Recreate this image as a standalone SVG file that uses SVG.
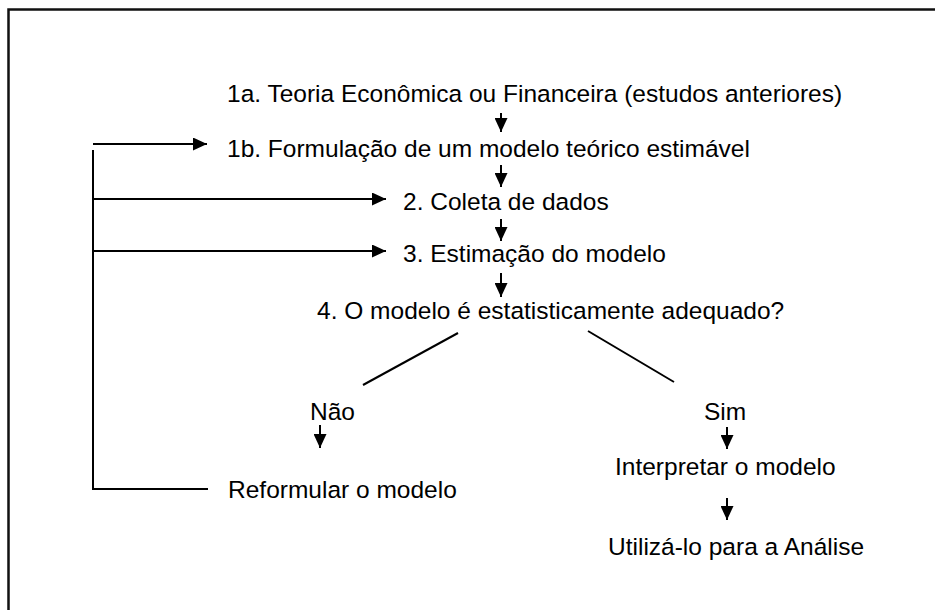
<svg xmlns="http://www.w3.org/2000/svg" width="935" height="610" viewBox="0 0 935 610">
<style>
text{font-family:"Liberation Sans",Arial,sans-serif;font-size:24.5px;fill:#000}
.ln{stroke:#000;stroke-width:2;fill:none}
</style>
<defs>
<marker id="ah" viewBox="0 0 14 13" refX="14" refY="6.5" markerWidth="14" markerHeight="13" markerUnits="userSpaceOnUse" orient="auto"><path d="M0,0L14,6.5L0,13z" fill="#000"/></marker>
</defs>
<rect width="935" height="610" fill="#fff"/>
<g id="frame"><path d="M8.5,610V9.5H935" fill="none" stroke="#111" stroke-width="2.5"/></g>
<g id="n1a"><text x="227" y="102">1a. Teoria Econômica ou Financeira (estudos anteriores)</text></g>
<g id="n1b"><text x="227" y="156.5">1b. Formulação de um modelo teórico estimável</text></g>
<g id="n2"><text x="403" y="210">2. Coleta de dados</text></g>
<g id="n3"><text x="403" y="262">3. Estimação do modelo</text></g>
<g id="n4"><text x="317" y="319">4. O modelo é estatisticamente adequado?</text></g>
<g id="nNao"><text x="310" y="420">Não</text></g>
<g id="nSim"><text x="704" y="420">Sim</text></g>
<g id="nRef"><text x="228" y="498">Reformular o modelo</text></g>
<g id="nInt"><text x="615" y="475">Interpretar o modelo</text></g>
<g id="nUti"><text x="608" y="555">Utilizá-lo para a Análise</text></g>
<g id="connectors">
<path class="ln" d="M501,113V132" marker-end="url(#ah)"/>
<path class="ln" d="M501,165V187" marker-end="url(#ah)"/>
<path class="ln" d="M501,219V241" marker-end="url(#ah)"/>
<path class="ln" d="M501,273V297" marker-end="url(#ah)"/>
<path class="ln" d="M458,333L363,385"/>
<path class="ln" d="M588,331L674,382"/>
<path class="ln" d="M320,425V448" marker-end="url(#ah)"/>
<path class="ln" d="M727,427V449" marker-end="url(#ah)"/>
<path class="ln" d="M727,498V520" marker-end="url(#ah)"/>
<path class="ln" d="M93,144H207" marker-end="url(#ah)"/>
<path class="ln" d="M93,199H386" marker-end="url(#ah)"/>
<path class="ln" d="M93,251H386" marker-end="url(#ah)"/>
<path class="ln" d="M93,150V489H208"/>
</g>
</svg>
